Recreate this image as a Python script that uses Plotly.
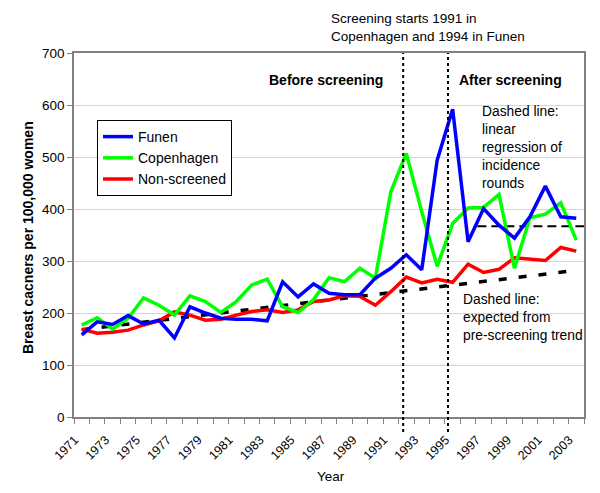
import plotly.graph_objects as go

years = list(range(1971, 2004))
funen = [158, 183, 178, 195, 179, 186, 152, 212, 200, 190, 188, 188, 185,
         260, 231, 256, 238, 235, 235, 267, 286, 312, 283, 494, 592, 337,
         401, 369, 344, 385, 444, 385, 382]
copenhagen = [177, 191, 169, 190, 229, 215, 196, 233, 222, 201, 222, 254, 265,
              212, 201, 226, 268, 260, 286, 267, 433, 507, 395, 290, 372, 402,
              403, 428, 286, 383, 390, 412, 340]
nonscreened = [169, 161, 163, 167, 177, 185, 202, 196, 186, 188, 196, 203, 206,
               201, 206, 222, 225, 233, 232, 215, 241, 269, 258, 265, 259, 294,
               278, 284, 306, 303, 301, 326, 319]

trend_years = [1971, 2003]
trend_vals = [168, 282]
regr_years = [1996.6, 2003.5]
regr_vals = [367, 367]
screen_lines = [1991.8, 1994.7]

tick_years = list(range(1971, 2004, 2))
tick_text = [str(y) for y in tick_years]

FONT = "Liberation Sans, Arial, sans-serif"

# plot area in pixels
L, R, T, B = 74, 584, 53, 417
W, H = 600, 493


def xp(px):
    return (px - L) / (R - L)


def yp(py):
    return (B - py) / (B - T)


fig = go.Figure()
fig.add_trace(go.Scatter(x=trend_years, y=trend_vals, mode="lines", showlegend=False,
                         line=dict(color="black", width=3.5, dash="8px,12px"), hoverinfo="skip"))
fig.add_trace(go.Scatter(x=regr_years, y=regr_vals, mode="lines", showlegend=False,
                         line=dict(color="black", width=2, dash="9px,5px"), hoverinfo="skip"))
fig.add_trace(go.Scatter(x=years, y=nonscreened, mode="lines", name="Non-screened",
                         line=dict(color="#FF0000", width=3.5), legendrank=3))
fig.add_trace(go.Scatter(x=years, y=copenhagen, mode="lines", name="Copenhagen",
                         line=dict(color="#00FF00", width=3.5), legendrank=2))
fig.add_trace(go.Scatter(x=years, y=funen, mode="lines", name="Funen",
                         line=dict(color="#0000FF", width=3.5), legendrank=1))

for sx in screen_lines:
    fig.add_shape(type="line", xref="x", yref="paper", x0=sx, x1=sx,
                  y0=yp(432), y1=1, line=dict(color="black", width=2, dash="dot"))

annots = [
    dict(text="Screening starts 1991 in<br>Copenhagen and 1994 in Funen", x=xp(428), y=yp(27),
         size=13.5, xanchor="center"),
    dict(text="<b>Before screening</b>", x=xp(326), y=yp(80), size=14, xanchor="center"),
    dict(text="<b>After screening</b>", x=xp(457), y=yp(80), size=14, xanchor="left"),
    dict(text="Dashed line:<br>linear<br>regression of<br>incidence<br>rounds", x=xp(480), y=yp(147),
         size=13.8, xanchor="left"),
    dict(text="Dashed line:<br>expected from<br>pre-screening trend", x=xp(461), y=yp(317),
         size=13.8, xanchor="left"),
    dict(text="Year", x=xp(331), y=yp(476), size=13.5, xanchor="center"),
]
for a in annots:
    fig.add_annotation(text=a["text"], x=a["x"], y=a["y"], xref="paper", yref="paper",
                       xanchor=a["xanchor"], yanchor="middle", showarrow=False, align="left",
                       font=dict(family=FONT, size=a["size"], color="black"))

fig.add_annotation(text="<b>Breast cacners per 100,000 women</b>", x=xp(28), y=yp(238),
                   xref="paper", yref="paper", textangle=-90, showarrow=False,
                   xanchor="center", yanchor="middle",
                   font=dict(family=FONT, size=14, color="black"))

fig.update_layout(
    width=W, height=H,
    margin=dict(l=L, r=W - R, t=T, b=H - B, pad=0, autoexpand=False),
    paper_bgcolor="white", plot_bgcolor="white",
    font=dict(family=FONT, size=13, color="black"),
    legend=dict(x=xp(97), y=yp(120), xanchor="left", yanchor="top",
                bordercolor="black", borderwidth=1, bgcolor="white",
                font=dict(family=FONT, size=14), itemwidth=30,
                traceorder="normal"),
    showlegend=True,
)
fig.update_xaxes(range=[1970.5, 2003.5], tickmode="array", tickvals=tick_years, ticktext=tick_text,
                 tickangle=-45, ticks="", showgrid=False, zeroline=False, automargin=False,
                 showline=True, linecolor="#808080", linewidth=1.5, mirror=True,
                 tickfont=dict(family=FONT, size=12.5),
                 ticklabelstandoff=9, ticklabelshift=-7,
                 minor=dict(tick0=1970.5, dtick=1, ticks="outside", ticklen=5,
                            tickcolor="#808080", tickwidth=1, showgrid=False))
fig.update_yaxes(range=[0, 700], dtick=100, showgrid=True, gridcolor="#d4d4d4", gridwidth=1,
                 zeroline=False, showline=True, linecolor="#808080", linewidth=1.5, mirror=True,
                 ticks="outside", ticklen=5, tickcolor="#808080", automargin=False,
                 tickfont=dict(family=FONT, size=13.5))

fig.write_html("out.html", config={"displayModeBar": False},
               post_script="document.body.style.margin='0px';document.body.style.overflow='hidden';")
